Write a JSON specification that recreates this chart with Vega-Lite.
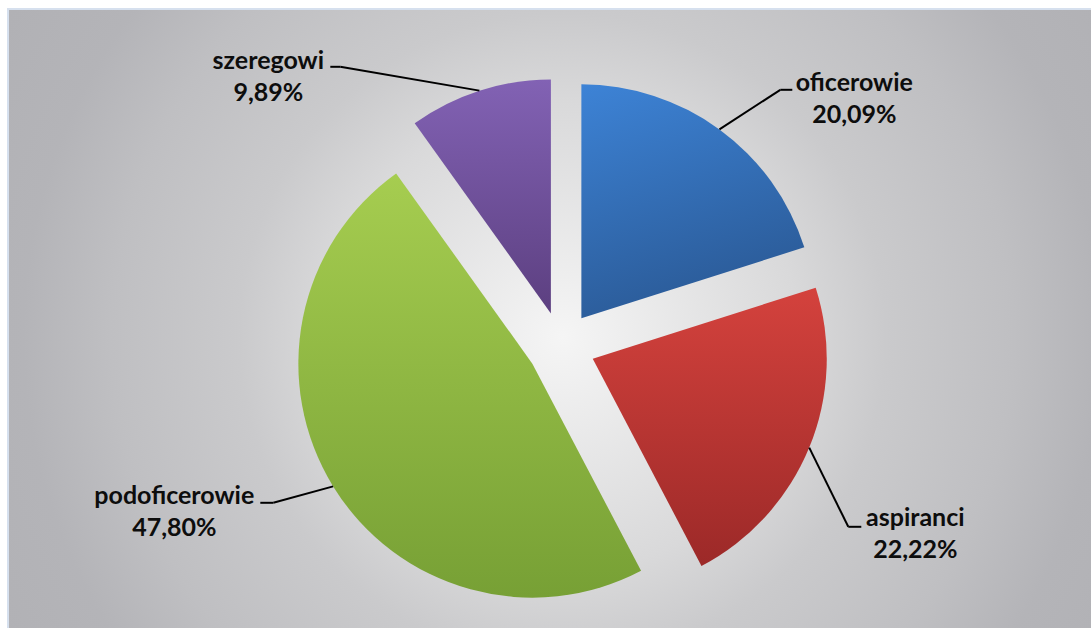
{
  "$schema": "https://vega.github.io/schema/vega-lite/v6.json",
  "width": 1091,
  "height": 628,
  "autosize": {"type": "fit", "contains": "padding"},
  "padding": {"left": 8, "top": 9, "right": -4, "bottom": -4},
  "background": "#ffffff",
  "config": {
    "view": {
      "fill": {"gradient": "radial", "x1": 0.51, "y1": 0.515, "r1": 0, "x2": 0.51, "y2": 0.515, "r2": 0.62,
        "stops": [
          {"offset": 0, "color": "#f5f5f5"},
          {"offset": 0.35, "color": "#d9d9da"},
          {"offset": 0.48, "color": "#cacacc"},
          {"offset": 0.67, "color": "#bfbfc2"},
          {"offset": 0.8, "color": "#b4b4b8"},
          {"offset": 1, "color": "#b0b0b4"}
        ]},
      "stroke": "#d6e0ee",
      "strokeWidth": 2
    },
    "locale": {"number": {"decimal": ",", "thousands": " ", "grouping": [3], "currency": ["", ""]}}
  },
  "params": [
    {"name": "cx", "expr": "width/2+9.8"},
    {"name": "cy", "expr": "height/2+25.3"},
    {"name": "tx", "value": {"oficerowie": 293, "aspiranci": 354, "podoficerowie": -387, "szeregowi": -293}},
    {"name": "ty", "value": {"oficerowie": -255, "aspiranci": 180, "podoficerowie": 158, "szeregowi": -277}},
    {"name": "ex", "value": {"oficerowie": 219, "aspiranci": 287, "podoficerowie": -288, "szeregowi": -221}},
    {"name": "ey", "value": {"oficerowie": -256, "aspiranci": 181, "podoficerowie": 157, "szeregowi": -279}},
    {"name": "hx", "value": {"oficerowie": 231, "aspiranci": 300, "podoficerowie": -301, "szeregowi": -231}}
  ],
  "data": {"values": [
    {"cat": "oficerowie", "share": 0.2009},
    {"cat": "aspiranci", "share": 0.2222},
    {"cat": "podoficerowie", "share": 0.4780},
    {"cat": "szeregowi", "share": 0.0989}
  ]},
  "transform": [
    {"stack": "share", "groupby": [], "offset": "normalize", "as": ["s0", "s1"]}
  ],
  "layer": [
    {
      "mark": {"type": "arc", "outerRadius": 234},
      "encoding": {
        "theta": {"field": "s0", "type": "quantitative", "scale": {"domain": [0, 1]}},
        "theta2": {"field": "s1"},
        "x": {"value": {"expr": "cx + 34*sin((datum.s0+datum.s1)*PI)"}},
        "y": {"value": {"expr": "cy - 34*cos((datum.s0+datum.s1)*PI)"}},
        "fill": {
          "condition": [
            {"test": "datum.cat === 'oficerowie'", "value": {"gradient": "linear", "x1": 0, "y1": 0, "x2": 0.3, "y2": 1, "stops": [{"offset": 0, "color": "#3d83d6"}, {"offset": 1, "color": "#2b5b98"}]}},
            {"test": "datum.cat === 'aspiranci'", "value": {"gradient": "linear", "x1": 0, "y1": 0, "x2": 0, "y2": 1, "stops": [{"offset": 0, "color": "#d4423d"}, {"offset": 1, "color": "#9c2928"}]}},
            {"test": "datum.cat === 'podoficerowie'", "value": {"gradient": "linear", "x1": 0, "y1": 0, "x2": 0, "y2": 1, "stops": [{"offset": 0, "color": "#a6cd50"}, {"offset": 1, "color": "#77a035"}]}}
          ],
          "value": {"gradient": "linear", "x1": 0, "y1": 0, "x2": 0, "y2": 1, "stops": [{"offset": 0, "color": "#8262b4"}, {"offset": 1, "color": "#5c3f80"}]}
        }
      }
    },
    {
      "mark": {"type": "rule", "color": "#000000", "strokeWidth": 2},
      "encoding": {
        "x": {"value": {"expr": "cx + 268*sin((datum.s0+datum.s1)*PI)"}},
        "y": {"value": {"expr": "cy - 268*cos((datum.s0+datum.s1)*PI)"}},
        "x2": {"value": {"expr": "cx + ex[datum.cat]"}},
        "y2": {"value": {"expr": "cy + ey[datum.cat]"}}
      }
    },
    {
      "mark": {"type": "rule", "color": "#000000", "strokeWidth": 2},
      "encoding": {
        "x": {"value": {"expr": "cx + ex[datum.cat]"}},
        "y": {"value": {"expr": "cy + ey[datum.cat]"}},
        "x2": {"value": {"expr": "cx + hx[datum.cat]"}},
        "y2": {"value": {"expr": "cy + ey[datum.cat]"}}
      }
    },
    {
      "mark": {"type": "text", "font": "Lato", "fontSize": 25, "fontWeight": "bold", "align": "center", "baseline": "alphabetic", "color": "#0d0d0d"},
      "encoding": {
        "text": {"field": "cat", "type": "nominal"},
        "x": {"value": {"expr": "cx + tx[datum.cat]"}},
        "y": {"value": {"expr": "cy + ty[datum.cat]"}}
      }
    },
    {
      "mark": {"type": "text", "font": "Lato", "fontSize": 25, "fontWeight": "bold", "align": "center", "baseline": "alphabetic", "color": "#0d0d0d"},
      "encoding": {
        "text": {"field": "share", "type": "quantitative", "format": ".2%"},
        "x": {"value": {"expr": "cx + tx[datum.cat]"}},
        "y": {"value": {"expr": "cy + ty[datum.cat] + 32"}}
      }
    }
  ]
}
